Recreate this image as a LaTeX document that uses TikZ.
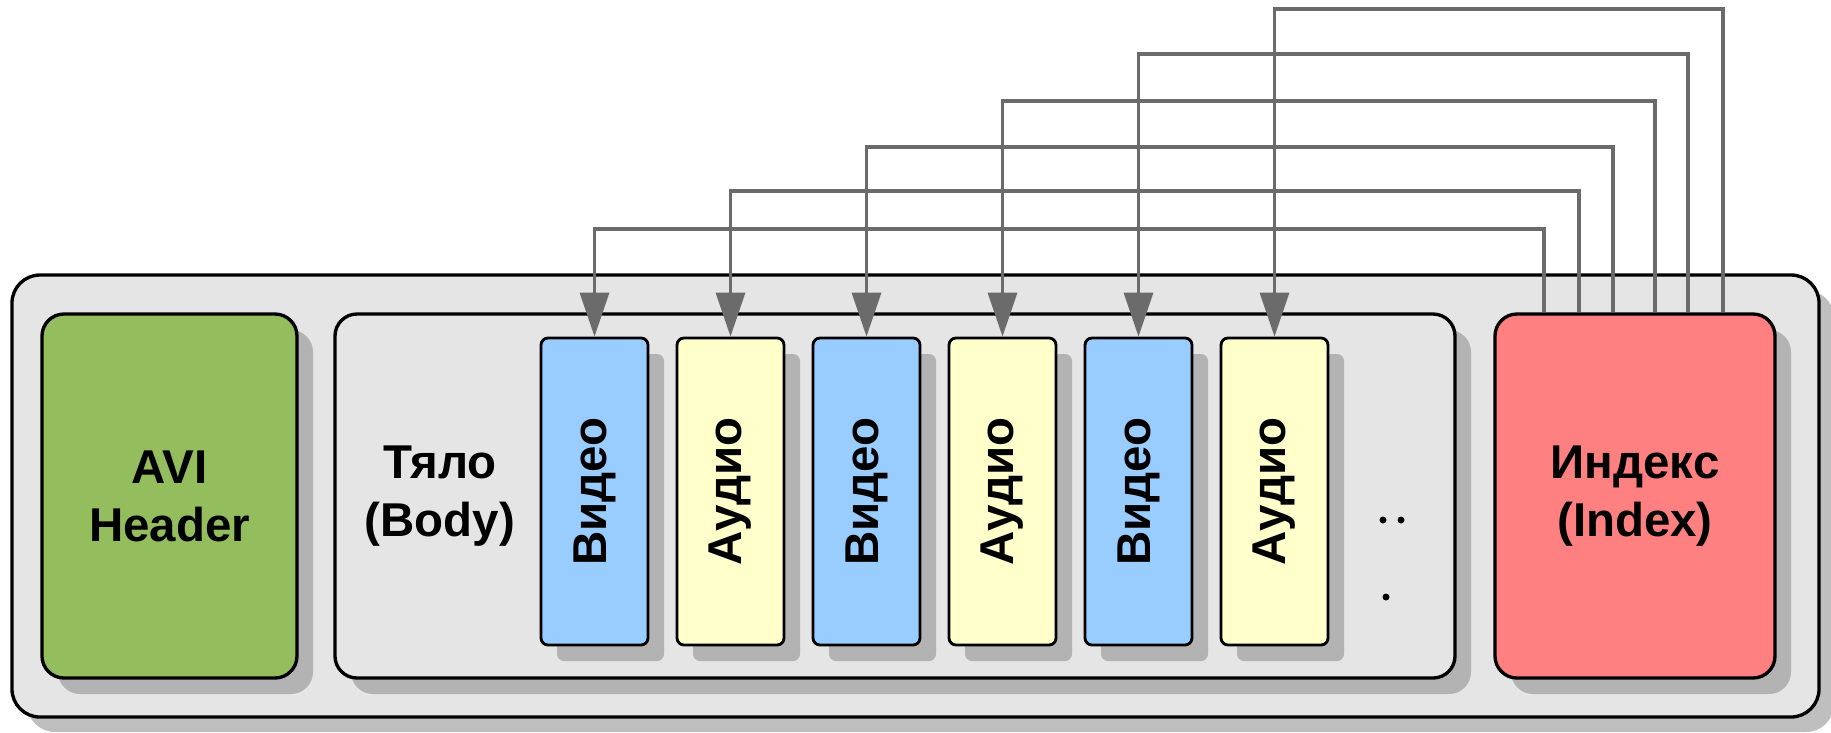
\documentclass[tikz,border=0pt]{standalone}
\usepackage{fontspec}
\setmainfont{Liberation Sans}
\usetikzlibrary{arrows.meta,shadows}
\definecolor{panelgray}{HTML}{E5E5E5}
\definecolor{shadowgray}{HTML}{B3B3B3}
\definecolor{outershadow}{HTML}{BFBFBF}
\definecolor{avigreen}{HTML}{94BD5E}
\definecolor{vidblue}{HTML}{99CCFF}
\definecolor{audyellow}{HTML}{FFFFCC}
\definecolor{idxred}{HTML}{FF8080}
\definecolor{linkgray}{HTML}{6B6B6B}
\begin{document}
\begin{tikzpicture}[x=0.2mm,y=-0.2mm,
  panel/.style={draw,line width=1.9pt,inner sep=0pt,align=center,
    font=\fontsize{27pt}{33pt}\selectfont\bfseries},
  dropsh/.style={drop shadow={shadow xshift=#1,shadow yshift=-#1,fill=shadowgray,opacity=1}},
  block/.style={panel,dropsh=3.2mm,rounded corners=4.4mm,minimum width=#1,minimum height=72.8mm},
  chunk/.style={panel,dropsh=3.2mm,rounded corners=1.4mm,line width=1.6pt,
    minimum width=21.4mm,minimum height=61.4mm},
  link/.style={draw=linkgray,line width=1.9pt,-{Triangle[length=8.8mm,width=5.8mm,fill=linkgray]}}]
\useasboundingbox (0,0) rectangle (1831,732);
% whole file
\node[panel,fill=panelgray,rounded corners=5.6mm,minimum width=361.4mm,minimum height=88.4mm,
  drop shadow={shadow xshift=3mm,shadow yshift=-3mm,fill=outershadow,opacity=1}] (file) at (915.5,496) {};
\node[block=51mm,fill=avigreen] (hdr) at (169.5,496) {AVI\\Header};
\node[block=224mm,fill=panelgray] (body) at (895,496) {};
\node[block=56mm,fill=idxred] (idx) at (1635,496) {Индекс\\(Index)};
\node[panel,draw=none] (bodylbl) at (440,496) {Тяло\\(Body)};
% chunks
\foreach \i/\col/\txt in {1/vidblue/Видео,2/audyellow/Аудио,3/vidblue/Видео,
                          4/audyellow/Аудио,5/vidblue/Видео,6/audyellow/Аудио}
  \node[chunk,fill=\col] (c\i) at ({458.5+136*\i},491.5) {\rotatebox{90}{\txt}};
\foreach \p in {(1383,520),(1401,520),(1386,597)}
  \fill \p circle (0.7mm);
% index links
\foreach \i/\lx/\ly in {1/1544/229,2/1579/191,3/1613/147,4/1655/101,5/1688/54,6/1723/9} {
  \coordinate (t\i) at (\lx,\ly);
  \draw[link] (idx.north -| t\i) -- (t\i) -| (c\i.north);
}
\end{tikzpicture}
\end{document}
